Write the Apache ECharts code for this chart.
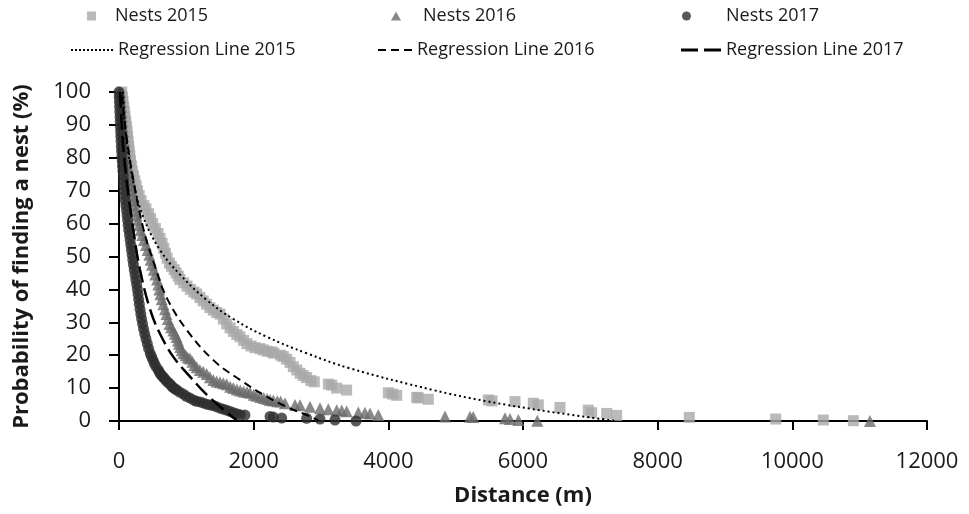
<!DOCTYPE html>
<html>
<head>
<meta charset="utf-8">
<script src="https://cdn.jsdelivr.net/npm/echarts@6/dist/echarts.min.js"></script>
<style>html,body{margin:0;padding:0;background:#fff}#c{width:969px;height:514px}</style>
</head>
<body>
<div id="c"></div>
<script>
// ---- data (distance m, probability %) ----
const nests2015 = [[40,100],[50,98.5],[60,97],[70,95.5],[80,94],[90,92.5],[100,91],[110,89.5],[120,88],[128,86.5],[135,85],[143,83.5],[152,82],[162,80.5],[172,79],[185,77.5],[198,76],[215,74.5],[235,73],[255,71.5],[275,70],[300,68.5],[330,67],[370,65.5],[400,64.5],[440,63],[470,61.5],[500,60],[540,58.5],[580,57],[610,55.5],[640,54],[665,52.5],[690,51],[715,49.5],[750,48],[780,47],[820,46],[850,45],[880,44],[906,43],[960,42],[1010,41],[1060,40],[1110,39.2],[1154,38.6],[1203,37.5],[1250,36.5],[1300,35.5],[1350,34.5],[1401,33.7],[1450,33],[1500,32.5],[1550,31],[1599,29.5],[1650,28.3],[1700,27.2],[1750,26.3],[1797,25.6],[1850,24.5],[1900,23.5],[1960,22.8],[2020,22.3],[2094,22],[2143,21.6],[2200,21.2],[2268,21],[2300,20.6],[2400,20],[2440,19.6],[2490,18.8],[2540,17.8],[2589,16.5],[2640,15.5],[2690,14.5],[2737,13.8],[2787,13.2],[2850,12.3],[2900,11.9],[3110,11.2],[3160,10.9],[3233,10],[3381,9.4],[4000,8.6],[4060,8.2],[4124,7.8],[4421,7.2],[4446,7.0],[4594,6.6],[5485,6.4],[5540,6.1],[5881,5.9],[6153,5.4],[6227,4.9],[6549,4.1],[6970,3.3],[7020,2.5],[7243,2.3],[7391,1.7],[8470,1.1],[9753,0.6],[10460,0.3],[10906,0.1]];

const nests2016 = [[15,100],[20,98.5],[26,97],[32,95.5],[38,94],[44,92.5],[50,91],[56,89.5],[62,88],[70,86.5],[79,85],[89,83.5],[98,82],[108,80.5],[118,79],[130,77.5],[142,76],[155,74.5],[168,73],[180,71.5],[192,70],[204,68.5],[216,67],[230,65.5],[245,64],[262,62.5],[280,61],[300,59.5],[320,58],[345,56.5],[370,55],[400,53.5],[425,52],[450,50.5],[470,49],[490,47.5],[515,46],[540,44.5],[565,43],[585,41.5],[600,40],[615,38.5],[635,37],[658,35.5],[683,34],[705,32.5],[725,31],[750,29.5],[775,28.5],[807,27.5],[830,26.5],[855,25.5],[875,24.5],[890,23.5],[910,22.5],[930,21.5],[955,20.6],[990,20],[1020,19.3],[1054,19],[1090,18],[1120,17],[1154,16.3],[1200,15.5],[1250,15],[1302,14.3],[1350,13.3],[1401,12.5],[1450,12],[1500,11.8],[1550,11.5],[1599,11.2],[1650,10.4],[1698,10],[1750,9.6],[1800,9.3],[1850,9],[1900,8.8],[1946,8.6],[2000,8],[2045,7.7],[2100,7.3],[2150,7],[2200,6.7],[2243,6.4],[2292,6.2],[2350,6],[2400,5.9],[2465,5.4],[2614,4.9],[2688,4.8],[2837,4.3],[2985,3.9],[3109,3.6],[3233,3.3],[3307,3.2],[3381,3.0],[3554,2.6],[3653,2.5],[3728,2.3],[3851,1.8],[4842,1.4],[5213,1.3],[5262,1.2],[5733,0.8],[5807,0.6],[5931,0.3],[6213,0.1],[11153,0]];

const nests2017 = [[0,100],[3,98.5],[6,97],[9,95.5],[12,94],[15,92.5],[18,91],[21,89.5],[24,88],[27,86.5],[30,85],[34,83.5],[38,82],[42,80.5],[47,79],[52,77.5],[58,76],[64,74.5],[70,73],[76,71.5],[82,70],[88,68.5],[95,67],[103,65.5],[112,64],[120,62.5],[128,61],[136,59.5],[145,58],[155,56.5],[165,55],[175,53.5],[185,52],[195,50.5],[205,49],[215,47.5],[226,46],[238,44.5],[250,43],[262,41.5],[273,40],[283,38.5],[292,37],[302,35.5],[312,34],[324,32.5],[336,31],[350,29.5],[365,28],[382,26.5],[400,25],[420,23.5],[440,22],[465,20.5],[485,19.5],[505,18.5],[525,17.5],[550,16.5],[584,15.5],[600,14.8],[620,14.2],[640,13.7],[658,13.3],[680,12.8],[700,12.3],[730,11.7],[757,11.2],[780,10.7],[800,10.2],[830,9.8],[857,9.4],[900,8.8],[955,8.2],[1000,7.5],[1050,7],[1104,6.4],[1150,6],[1203,5.8],[1250,5.5],[1300,5.1],[1351,4.9],[1401,4.7],[1450,4.3],[1500,3.9],[1550,3.6],[1599,3.3],[1650,2.9],[1700,2.5],[1748,2.2],[1800,1.9],[1871,1.8],[2243,1.4],[2292,1.2],[2416,0.9],[2787,0.8],[2985,0.6],[3208,0.3],[3520,0]];

const reg2015 = [[56,100],[70,95.5],[100,88],[138,81.5],[213,72.5],[361,62],[609,52],[906,44.5],[1302,36.8],[1698,31],[2193,25.6],[2787,20.6],[3431,16],[4669,9.4],[5461,6],[6405,2.8],[7391,0]];
const reg2016 = [[40,99],[100,88],[213,73.3],[361,58.5],[535,47],[708,37.5],[1005,27.7],[1401,18.5],[1797,12.5],[2193,7.4],[2490,4.3],[2787,1.8],[2960,0.2]];
const reg2017 = [[15,100],[40,90],[64,83],[114,73],[213,58],[312,46],[460,34],[609,26.5],[807,19.5],[1054,13.5],[1302,8],[1550,3.5],[1748,0.2]];

const xTicks = {min: 0, max: 12000, step: 2000};
const yTicks = {min: 0, max: 100, step: 10};

const FONT = "'Open Sans', 'Noto Sans', sans-serif";
const chart = echarts.init(document.getElementById('c'), null, {renderer: 'canvas'});

// legend icons for the regression lines, drawn as dash segments (pattern only, no data)
function dashIcon(dash, gap, count, h) {
  let p = 'path://';
  for (let i = 0; i < count; i++) {
    const x = i * (dash + gap);
    p += 'M' + x + ',0h' + dash + 'v' + h + 'h-' + dash + 'z';
  }
  return p;
}

function legendAt(name, left, top, w, h, padLeft, icon) {
  const item = icon ? {name: name, icon: icon} : {name: name};
  return {
    data: [item], left: left, top: top, itemWidth: w, itemHeight: h,
    padding: 0, itemGap: 0, selectedMode: false,
    textStyle: {fontFamily: FONT, fontSize: 18, color: '#1a1a1a', padding: [0, 0, 0, padLeft]}
  };
}

chart.setOption({
  animation: false,
  backgroundColor: '#fff',
  legend: [
    legendAt('Nests 2015', 87, 7, 9, 9, 14),
    legendAt('Nests 2016', 391, 7, 10, 9, 17),
    legendAt('Nests 2017', 682, 7, 9, 9, 30),
    legendAt('Regression Line 2015', 71, 41, 42, 2, 0, dashIcon(2, 2, 11, 2)),
    legendAt('Regression Line 2016', 378, 41, 34, 2, 0, dashIcon(8, 5, 3, 2)),
    legendAt('Regression Line 2017', 681, 41, 40, 3, 0, dashIcon(17, 6, 2, 3))
  ],
  grid: {left: 119, right: 42, top: 92, bottom: 93},
  xAxis: {
    type: 'value', min: xTicks.min, max: xTicks.max, interval: xTicks.step,
    name: 'Distance (m)', nameLocation: 'middle', nameGap: 64,
    nameTextStyle: {fontFamily: FONT, fontSize: 22, fontWeight: 'bold', color: '#1a1a1a'},
    axisLine: {lineStyle: {color: '#000', width: 2}},
    axisTick: {show: true, length: 9, lineStyle: {color: '#000', width: 2}},
    axisLabel: {fontFamily: FONT, fontSize: 22, color: '#1a1a1a', margin: 30, formatter: v => String(v)},
    splitLine: {show: false}
  },
  yAxis: {
    type: 'value', min: yTicks.min, max: yTicks.max, interval: yTicks.step,
    name: 'Probability of finding a nest (%)', nameLocation: 'middle', nameGap: 86,
    nameTextStyle: {fontFamily: FONT, fontSize: 22, fontWeight: 'bold', color: '#1a1a1a'},
    axisLine: {show: true, lineStyle: {color: '#000', width: 2}},
    axisTick: {show: true, length: 10, lineStyle: {color: '#000', width: 2}},
    axisLabel: {fontFamily: FONT, fontSize: 22, color: '#1a1a1a', margin: 28, formatter: v => String(v)},
    splitLine: {show: false}
  },
  series: [
    {name: 'Nests 2015', type: 'scatter', data: nests2015, symbol: 'rect', symbolSize: 11, clip: false,
     itemStyle: {color: '#a9a9a9'}, z: 2},
    {name: 'Nests 2016', type: 'scatter', data: nests2016, symbol: 'triangle', symbolSize: 12, clip: false,
     itemStyle: {color: '#6b6b6b'}, z: 3},
    {name: 'Nests 2017', type: 'scatter', data: nests2017, symbol: 'circle', symbolSize: 11, clip: false,
     itemStyle: {color: '#2e2e2e'}, z: 4},
    {name: 'Regression Line 2015', type: 'line', data: reg2015, smooth: 0.4, symbol: 'none', z: 5,
     lineStyle: {color: '#000', width: 2, type: [2, 3]}, itemStyle: {color: '#000'}},
    {name: 'Regression Line 2016', type: 'line', data: reg2016, smooth: 0.4, symbol: 'none', z: 5,
     lineStyle: {color: '#000', width: 2, type: [8, 5]}, itemStyle: {color: '#000'}},
    {name: 'Regression Line 2017', type: 'line', data: reg2017, smooth: 0.4, symbol: 'none', z: 5,
     lineStyle: {color: '#000', width: 2.5, type: [16, 6]}, itemStyle: {color: '#000'}}
  ]
});
</script>
</body>
</html>
